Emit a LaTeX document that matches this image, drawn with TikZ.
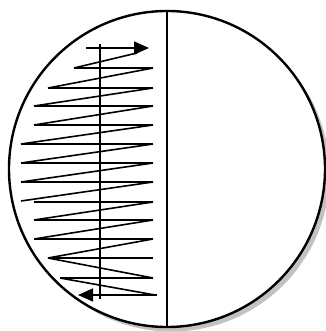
\documentclass[tikz,border=0pt]{standalone}
\usetikzlibrary{arrows.meta}
\begin{document}
\begin{tikzpicture}[x=1pt,y=-1pt,
  rim/.style={draw=black,line width=2.4pt,fill=white},
  scanline/.style={draw=black,line width=1.6pt},
  tiparrow/.style={-{Triangle[length=15pt,width=13pt]}}]
\useasboundingbox (0,0) rectangle (325,331);
% shadow and disc
\fill[black!24] (171.5,173.5) circle (158);
\draw[rim] (167,169) circle (158);
% diameter
\draw[line width=2.4pt] (167,12) -- (167,327);
% central scan axis
\draw[scanline,line width=1.4pt] (100,44) -- (100,299);
% top arrow
\draw[scanline,tiparrow] (86,48) -- (149,48);
\draw[scanline] (137,53) -- (74,68);
% horizontal strokes
\foreach \xl/\yy in {74/68,48/88,34/106,34/125,21/144,21/163,21/182,34/202,34/220,34/239,48/258,60/278}
  \draw[scanline] (\xl,\yy) -- (153,\yy);
% descending diagonals
\foreach \ya/\xb/\yb in {68/48/88,88/34/106,106/34/125,125/21/144,144/21/163,163/21/182,182/21/201,202/34/220,220/34/239,239/48/258}
  \draw[scanline] (153,\ya) -- (\xb,\yb);
% lower diagonals to the right
\draw[scanline] (48,258) -- (153,278);
\draw[scanline] (60,278) -- (155,295);
% bottom arrow
\draw[scanline,tiparrow] (157,295) -- (78,295);
\end{tikzpicture}
\end{document}
